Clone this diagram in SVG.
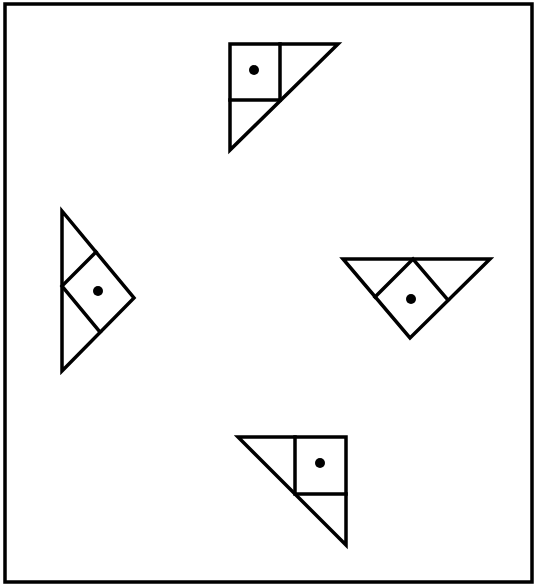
<svg xmlns="http://www.w3.org/2000/svg" width="535" height="585" viewBox="0 0 535 585">
<style>
.s{fill:none;stroke:#000;stroke-width:3.5;stroke-linejoin:miter;stroke-linecap:square}
.d{fill:#000}
</style>
<rect x="0" y="0" width="535" height="585" fill="#fff"/>
<rect id="frame" x="5" y="4" width="527" height="578" fill="none" stroke="#000" stroke-width="3.5"/>
<g id="top">
<polygon class="s" points="230,44 338,44 230,150"/>
<polyline class="s" points="280,44 280,100 230,100"/>
<circle class="d" cx="254" cy="70" r="5"/>
</g>
<g id="left">
<polygon class="s" points="62,211 134,298 62,371"/>
<polyline class="s" points="96,252 62,286 100,332"/>
<circle class="d" cx="98" cy="291" r="5"/>
</g>
<g id="right">
<polygon class="s" points="343,259 490,259 410,338"/>
<polyline class="s" points="375,297 413,259 448,300"/>
<circle class="d" cx="411" cy="299" r="5"/>
</g>
<g id="bottom">
<polygon class="s" points="238,437 346,437 346,545"/>
<polyline class="s" points="295,437 295,494 346,494"/>
<circle class="d" cx="320" cy="463" r="5"/>
</g>
</svg>
